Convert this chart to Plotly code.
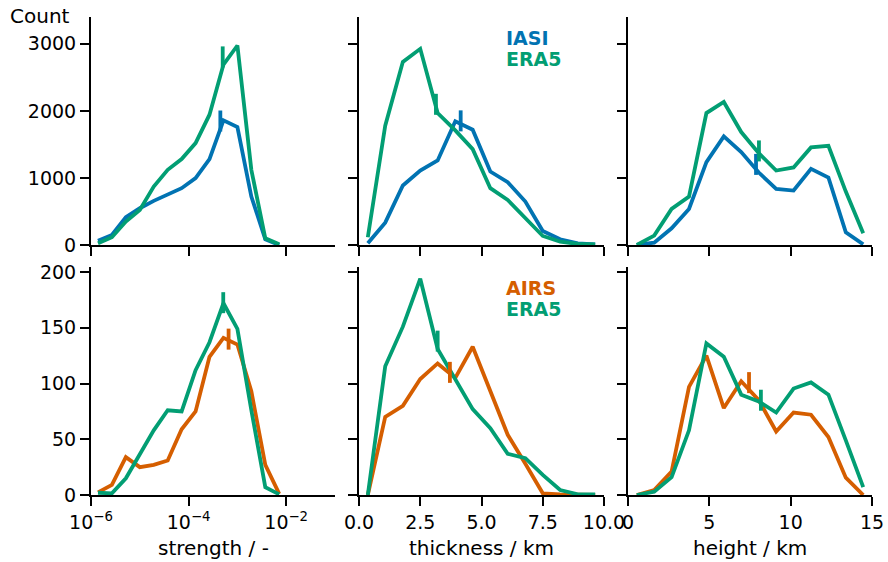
import plotly.graph_objects as go

# ---------------- data ----------------
strength_bins = [1.39e-6, 2.68e-6, 5.18e-6, 1.0e-5, 1.93e-5, 3.73e-5, 7.2e-5,
                 1.39e-4, 2.68e-4, 5.18e-4, 1.0e-3, 1.93e-3, 3.73e-3, 7.2e-3]
thickness_bins = [0.36, 1.07, 1.79, 2.50, 3.21, 3.93, 4.64, 5.36, 6.07, 6.79, 7.50, 8.21, 8.93, 9.64]
height_bins = [0.54, 1.61, 2.68, 3.75, 4.82, 5.89, 6.96, 8.04, 9.11, 10.18, 11.25, 12.32, 13.39, 14.46]

# top row: IASI vs ERA5
iasi_strength = [65, 150, 414, 548, 658, 757, 847, 997, 1280, 1859, 1759, 723, 85, 0]
era5i_strength = [25, 115, 349, 523, 872, 1121, 1281, 1520, 1943, 2690, 2975, 1121, 100, 10]
iasi_thickness = [25, 334, 887, 1111, 1261, 1844, 1719, 1096, 937, 648, 209, 85, 25, 10]
era5i_thickness = [115, 1779, 2731, 2925, 1968, 1709, 1430, 847, 673, 399, 135, 50, 15, 10]
iasi_height = [0, 35, 249, 538, 1236, 1620, 1385, 1081, 837, 812, 1136, 1007, 189, 10]
era5i_height = [0, 140, 538, 723, 1968, 2133, 1684, 1370, 1111, 1156, 1455, 1480, 797, 174]

# bottom row: AIRS vs ERA5
airs_strength = [2.4, 9, 34, 25, 27, 31, 59, 75, 124, 141, 135, 93, 27, 1]
era5a_strength = [2, 1.5, 15, 37, 58, 76, 75, 112, 137, 172, 149, 76, 7, 0.6]
airs_thickness = [0, 70, 80, 104, 118, 105, 133, 94, 54, 28, 1.5, 0.6, 0, 0]
era5a_thickness = [0, 115.5, 151, 194, 131, 104, 77, 60, 37, 33, 18, 4.5, 0.6, 0.6]
airs_height = [0, 4.5, 21, 97, 125, 78, 102, 85, 57, 74, 72, 52, 15.5, 0]
era5a_height = [0, 3, 16, 58, 136, 124, 90, 84, 74, 95.5, 101, 90, 49, 7]

# median markers: (x, y) per panel
iasi_med_x = [4.47e-4, 4.15, 7.87]
iasi_med_y = [1849, 1851, 1202]
era5i_med_x = [5.0e-4, 3.14, 8.05]
era5i_med_y = [2805, 2098, 1403]
airs_med_x = [6.6e-4, 3.71, 7.44]
airs_med_y = [139.8, 110, 100.8]
era5a_med_x = [5.13e-4, 3.21, 8.17]
era5a_med_y = [172.5, 138, 85]

x_titles = ["strength / -", "thickness / km", "height / km"]
strength_ticks = [1e-6, 1e-4, 1e-2]
strength_ticktext = ["10<sup>−6</sup>", "10<sup>−4</sup>", "10<sup>−2</sup>"]
thickness_ticks = [0, 2.5, 5, 7.5, 10]
thickness_ticktext = ["0.0", "2.5", "5.0", "7.5", "10.0"]
height_ticks = [0, 5, 10, 15]
top_yticks = [0, 1000, 2000, 3000]
bottom_yticks = [0, 50, 100, 150, 200]

# ---------------- style ----------------
BLUE = "#0173B2"
GREEN = "#029E73"
ORANGE = "#D55E00"
FONT = "DejaVu Sans"
FS = 19
FS_TITLE = 20
LW = 3.8
W, H = 888, 562

col_px = [(91, 335), (359, 604), (628, 872)]
row_px = [(17, 245), (267, 495)]

fig = go.Figure()

bins = [strength_bins, thickness_bins, height_bins]
top_sat = [iasi_strength, iasi_thickness, iasi_height]
top_era = [era5i_strength, era5i_thickness, era5i_height]
bot_sat = [airs_strength, airs_thickness, airs_height]
bot_era = [era5a_strength, era5a_thickness, era5a_height]


def add_panel(idx, xs, ys_sat, ys_era, c_sat, mx_sat, my_sat, mx_era, my_era):
    ax = "" if idx == 1 else str(idx)
    xa, ya = "x" + ax, "y" + ax
    fig.add_trace(go.Scatter(x=xs, y=ys_sat, mode="lines", line=dict(color=c_sat, width=LW),
                             xaxis=xa, yaxis=ya, showlegend=False))
    fig.add_trace(go.Scatter(x=xs, y=ys_era, mode="lines", line=dict(color=GREEN, width=LW),
                             xaxis=xa, yaxis=ya, showlegend=False))
    fig.add_trace(go.Scatter(x=[mx_sat], y=[my_sat], mode="markers",
                             marker=dict(symbol="line-ns", size=15, line=dict(color=c_sat, width=LW)),
                             xaxis=xa, yaxis=ya, showlegend=False))
    fig.add_trace(go.Scatter(x=[mx_era], y=[my_era], mode="markers",
                             marker=dict(symbol="line-ns", size=15, line=dict(color=GREEN, width=LW)),
                             xaxis=xa, yaxis=ya, showlegend=False))


for c in range(3):
    add_panel(c + 1, bins[c], top_sat[c], top_era[c], BLUE,
              iasi_med_x[c], iasi_med_y[c], era5i_med_x[c], era5i_med_y[c])
    add_panel(c + 4, bins[c], bot_sat[c], bot_era[c], ORANGE,
              airs_med_x[c], airs_med_y[c], era5a_med_x[c], era5a_med_y[c])

axis_common = dict(showline=True, linecolor="black", linewidth=2, ticks="outside",
                   ticklen=9, tickwidth=2, tickcolor="black", showgrid=False, zeroline=False,
                   automargin=False, tickfont=dict(family=FONT, size=FS, color="black"))

layout = dict(width=W, height=H, margin=dict(l=0, r=0, t=0, b=0, autoexpand=False),
              plot_bgcolor="white", paper_bgcolor="white",
              font=dict(family=FONT, size=FS, color="black"))

x_ranges = [[-6, -1], [0, 10], [0, 15]]
x_types = ["log", "linear", "linear"]
x_tickvals = [strength_ticks, thickness_ticks, height_ticks]
x_ticktext = [strength_ticktext, thickness_ticktext, [str(v) for v in height_ticks]]
y_ranges = [[0, 3400], [0, 204.5]]
y_ticks = [top_yticks, bottom_yticks]

for r in range(2):
    for c in range(3):
        idx = r * 3 + c + 1
        ax = "" if idx == 1 else str(idx)
        x0, x1 = col_px[c]
        y0, y1 = row_px[r]
        xa = dict(axis_common, domain=[x0 / W, x1 / W], range=x_ranges[c], type=x_types[c],
                  anchor="y" + ax, showticklabels=(r == 1),
                  tickvals=x_tickvals[c], ticktext=x_ticktext[c])
        ya = dict(axis_common, domain=[1 - y1 / H, 1 - y0 / H], range=y_ranges[r],
                  tickvals=y_ticks[r], anchor="x" + ax, showticklabels=(c == 0))
        layout["xaxis" + ax] = xa
        layout["yaxis" + ax] = ya

annotations = [
    dict(text="Count", x=72 / W, y=1 - 16 / H, xref="paper", yref="paper",
         xanchor="right", yanchor="middle", showarrow=False, font=dict(size=FS_TITLE, family=FONT)),
    dict(text="<b>IASI</b>", x=504 / W, y=1 - 38 / H, xref="paper", yref="paper",
         xanchor="left", yanchor="middle", showarrow=False, font=dict(size=FS, family=FONT, color=BLUE)),
    dict(text="<b>ERA5</b>", x=504 / W, y=1 - 58.5 / H, xref="paper", yref="paper",
         xanchor="left", yanchor="middle", showarrow=False, font=dict(size=FS, family=FONT, color=GREEN)),
    dict(text="<b>AIRS</b>", x=504 / W, y=1 - 288 / H, xref="paper", yref="paper",
         xanchor="left", yanchor="middle", showarrow=False, font=dict(size=FS, family=FONT, color=ORANGE)),
    dict(text="<b>ERA5</b>", x=504 / W, y=1 - 308.5 / H, xref="paper", yref="paper",
         xanchor="left", yanchor="middle", showarrow=False, font=dict(size=FS, family=FONT, color=GREEN)),
]
for c in range(3):
    x0, x1 = col_px[c]
    annotations.append(dict(text=x_titles[c], x=(x0 + x1) / 2 / W, y=1 - 548 / H, xref="paper",
                            yref="paper", xanchor="center", yanchor="middle", showarrow=False,
                            font=dict(size=FS_TITLE, family=FONT)))
layout["annotations"] = annotations

fig.update_layout(**layout)
fig.write_html("out.html", config={"displayModeBar": False},
               post_script="document.body.style.margin='0';document.body.style.overflow='hidden';")
